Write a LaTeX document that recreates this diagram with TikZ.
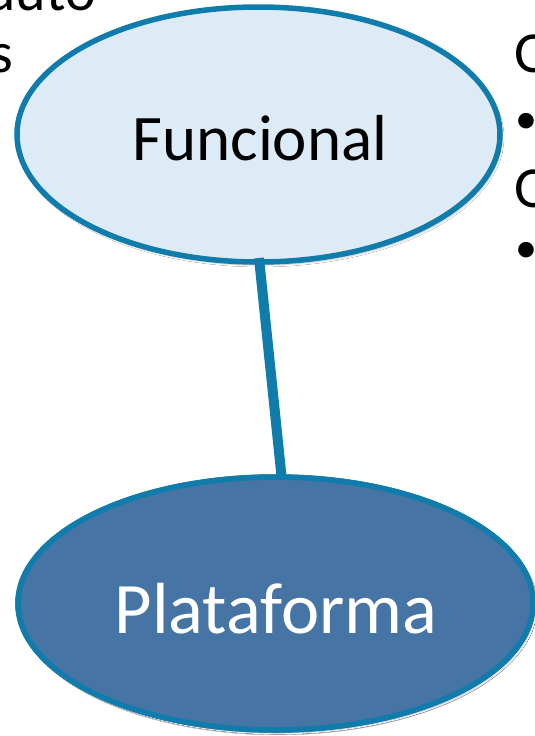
\documentclass[tikz,border=0pt]{standalone}
\usepackage{fontspec}
\setmainfont{Carlito}
\usetikzlibrary{shapes.geometric,shadows.blur}
\definecolor{edgeblue}{RGB}{16,124,171}
\definecolor{lightfill}{RGB}{221,235,247}
\definecolor{darkfill}{RGB}{70,116,164}
\tikzset{
  bubble/.style={ellipse, draw=edgeblue, line width=5.5pt, inner sep=0pt,
    blur shadow={shadow xshift=2pt, shadow yshift=-3pt, shadow blur steps=6, shadow opacity=25}},
  frag/.style={inner sep=0pt, font=\fontsize{58}{60}\selectfont},
  dot/.style={inner sep=0pt, font=\fontsize{44}{48}\selectfont}
}
\begin{document}
\begin{tikzpicture}[x=1pt,y=-1pt]
\useasboundingbox (0,0) rectangle (535,736);
\clip (0,0) rectangle (535,736);
\fill[white] (0,0) rectangle (535,736);
% clipped text fragments
\node[frag, anchor=base east] (t1) at (96,10) {duto};
\node[frag, anchor=base east] (t2) at (13,72) {s};
\node[frag, anchor=base west] (r1) at (514,72) {O};
\node[dot, anchor=base west] (r2) at (515,133) {•};
\node[frag, anchor=base west] (r3) at (514,207) {O};
\node[dot, anchor=base west] (r4) at (515,262) {•};
% ellipses
\node[bubble, fill=lightfill, minimum width=483pt, minimum height=255pt] (fun) at (258.5,134.5) {};
\node[bubble, fill=darkfill, minimum width=515pt, minimum height=253pt] (plat) at (275.5,603.5) {};
\draw[edgeblue, line width=10pt] (259,258) -- (282,481);
\node[bubble, fill=darkfill, minimum width=515pt, minimum height=253pt, blur shadow={shadow opacity=0}] at (plat.center) {};
\node[inner sep=0pt, font=\fontsize{65}{70}\selectfont, anchor=base] (funt) at (260,160) {Funcional};
\node[inner sep=0pt, font=\fontsize{72.5}{78}\selectfont, anchor=base, text=white] (platt) at (276,633) {Plataforma};
\end{tikzpicture}
\end{document}
